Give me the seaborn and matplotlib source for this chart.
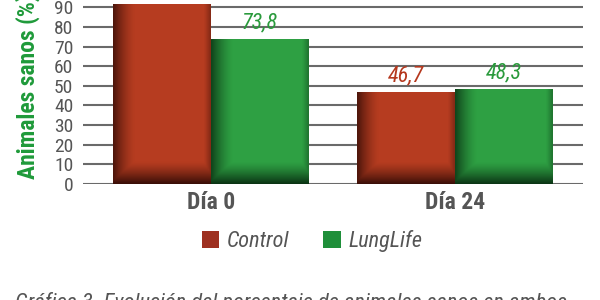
import matplotlib
matplotlib.use("Agg")
import matplotlib.pyplot as plt
import seaborn as sns
import pandas as pd
import numpy as np
from matplotlib.patches import Patch

days = ["Día 0", "Día 24"]
groups = ["Control", "LungLife"]
control_vals = [91.7, 46.7]
lunglife_vals = [73.8, 48.3]
value_labels = {"Control": ["91,7", "46,7"], "LungLife": ["73,8", "48,3"]}
yticks = [0, 10, 20, 30, 40, 50, 60, 70, 80, 90]

df = pd.DataFrame({
    "Día": days * 2,
    "Grupo": ["Control"] * 2 + ["LungLife"] * 2,
    "Valor": control_vals + lunglife_vals,
})

sns.set_style("white")
FAM = ["Roboto Condensed", "DejaVu Sans"]
plt.rcParams["font.family"] = FAM

bar_colors = {"Control": "#b63c20", "LungLife": "#2ea043"}
dark_colors = {"Control": (0.18, 0.04, 0.02), "LungLife": (0.03, 0.16, 0.06)}
text_colors = {"Control": "#b5381e", "LungLife": "#2a9a3c"}
gray = "#555555"

fig = plt.figure(figsize=(6, 3), dpi=100)
ax = fig.add_axes([83/600, (300-184)/300, 500/600, 184/300])

sns.barplot(data=df, x="Día", y="Valor", hue="Grupo", palette=bar_colors,
            order=days, hue_order=groups, width=0.8, ax=ax, legend=False,
            saturation=1, edgecolor="none", zorder=3)

ax.set_ylim(0, 93.7)
ax.set_xlim(-0.525, 1.525)
ax.set_yticks(yticks)
ax.set_yticklabels([str(v) for v in yticks], color=gray, fontsize=14)
ax.yaxis.grid(True, color="#6a6a6a", linewidth=1.5, zorder=0)
ax.set_axisbelow(True)
ax.tick_params(axis="y", length=0, pad=7)
ax.tick_params(axis="x", length=0, pad=5)
for lab in ax.get_xticklabels():
    lab.set_fontweight("bold")
    lab.set_fontsize(17)
    lab.set_color(gray)
for s in ax.spines.values():
    s.set_visible(False)
ax.set_xlabel("")
ax.set_ylabel("")

# 3D-like shading on each bar (dark bottom and left edges), clipped to the bar patch
fig.canvas.draw()
for cont, g in zip(ax.containers, groups):
    for patch in cont.patches:
        bb = patch.get_window_extent()
        w_px, h_px = max(bb.width, 1), max(bb.height, 1)
        ny, nx = 120, 60
        ypx = np.linspace(0, h_px, ny)[:, None]
        xpx = np.linspace(0, w_px, nx)[None, :]
        bottom = np.clip(1 - ypx / 22.0, 0, 1) ** 1.3 * 0.9
        left = np.clip(1 - xpx / 22.0, 0, 1) ** 1.5 * 0.75
        right = np.clip(1 - (w_px - xpx) / 6.0, 0, 1) * 0.35
        alpha = np.clip(np.maximum(np.maximum(bottom, left), right), 0, 1)
        rgba = np.zeros((ny, nx, 4))
        rgba[..., :3] = dark_colors[g]
        rgba[..., 3] = alpha
        x0, y0 = patch.get_x(), patch.get_y()
        im = ax.imshow(rgba, origin="lower", aspect="auto", zorder=3.5,
                       extent=(x0, x0 + patch.get_width(), y0, y0 + patch.get_height()),
                       interpolation="bilinear")
        im.set_clip_path(patch)
ax.set_xlim(-0.525, 1.525)
ax.set_ylim(0, 93.7)

for cont, g in zip(ax.containers, groups):
    ax.bar_label(cont, labels=value_labels[g], padding=4, color=text_colors[g],
                 fontsize=16, fontstyle="italic", clip_on=False, zorder=5)

fig.text(28/600, 1 - 86/300, "Animales sanos (%)", rotation=90, ha="center",
         va="center", color="#1f9a3a", fontsize=17, fontweight="bold")

handles = [Patch(facecolor="#9e3020", edgecolor="none"),
           Patch(facecolor="#1f8f3a", edgecolor="none")]
leg = fig.legend(handles, groups, loc="center", bbox_to_anchor=(312/600, 1 - 241/300),
                 ncol=2, frameon=False, handlelength=0.8, handleheight=0.8,
                 handletextpad=0.35, columnspacing=1.5,
                 prop={"style": "italic", "size": 16, "family": FAM})
for t in leg.get_texts():
    t.set_color(gray)

fig.text(15/600, 1 - 309/300, "Gráfica 3. Evolución del porcentaje de animales sanos en ambos",
         ha="left", va="baseline", color=gray, fontsize=16, fontstyle="italic")

fig.savefig("out.png", dpi=100)
